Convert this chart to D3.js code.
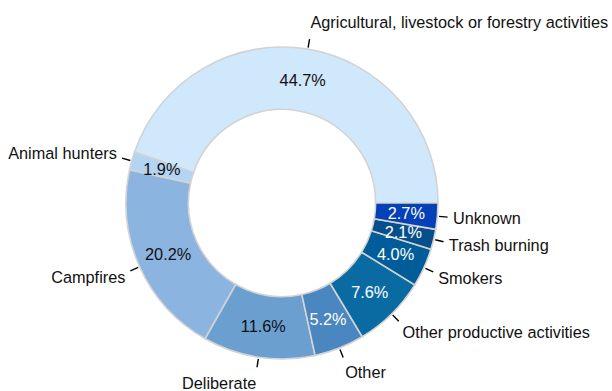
<!DOCTYPE html>
<html>
<head>
<meta charset="utf-8">
<script src="https://cdn.jsdelivr.net/npm/d3@7"></script>
<style>
  html, body { margin: 0; padding: 0; background: #ffffff; }
  svg text { font-family: "Liberation Sans", Arial, Helvetica, sans-serif; }
</style>
</head>
<body>
<svg id="chart" width="612" height="391"></svg>
<script>
// Causes of wildfires, share of total (%)
const categories = [
  "Agricultural, livestock or forestry activities",
  "Animal hunters",
  "Campfires",
  "Deliberate",
  "Other",
  "Other productive activities",
  "Smokers",
  "Trash burning",
  "Unknown"
];
const shares = [44.7, 1.9, 20.2, 11.6, 5.2, 7.6, 4.0, 2.1, 2.7];
const sliceColors = [
  "#cfe8fc", "#b4d4f3", "#8cb4e0", "#6b9fd0", "#4a86bf",
  "#0a6ba3", "#005d9a", "#064f8b", "#0440b6"
];
const darkText = [true, true, true, true, false, false, false, false, false];

const width = 612, height = 391;
const cx = 282, cy = 203;
const R = 156;
const innerR = R * 0.6;
const fontSize = 16.3;

const svg = d3.select("#chart");
const g = svg.append("g").attr("transform", `translate(${cx},${cy})`);

const data = categories.map((c, i) => ({ name: c, value: shares[i], color: sliceColors[i], dark: darkText[i] }));

// Slices run counter-clockwise starting at three o'clock
const pie = d3.pie()
  .sort(null)
  .value(d => d.value)
  .startAngle(Math.PI / 2)
  .endAngle(Math.PI / 2 - 2 * Math.PI);

const arcs = pie(data);

const arc = d3.arc().innerRadius(innerR).outerRadius(R);

g.selectAll("path.slice")
  .data(arcs)
  .join("path")
  .attr("class", "slice")
  .attr("d", arc)
  .attr("fill", d => d.data.color)
  .attr("stroke", "#d3d3d3")
  .attr("stroke-width", 1.6);

const mid = d => (d.startAngle + d.endAngle) / 2;
const pt = (a, r) => [Math.sin(a) * r, -Math.cos(a) * r];

// Percentage labels inside the ring
const fmt = d3.format(".1f");
g.selectAll("text.pct")
  .data(arcs)
  .join("text")
  .attr("class", "pct")
  .attr("x", d => pt(mid(d), R * 0.8)[0])
  .attr("y", d => pt(mid(d), R * 0.8)[1])
  .attr("dy", "0.35em")
  .attr("text-anchor", "middle")
  .attr("font-size", fontSize)
  .attr("fill", d => d.data.dark ? "#111111" : "#ffffff")
  .text(d => fmt(d.data.value) + "%");

// Short leader ticks
g.selectAll("line.tick")
  .data(arcs)
  .join("line")
  .attr("class", "tick")
  .attr("x1", d => pt(mid(d), R * 1.01)[0])
  .attr("y1", d => pt(mid(d), R * 1.01)[1])
  .attr("x2", d => pt(mid(d), R * 1.065)[0])
  .attr("y2", d => pt(mid(d), R * 1.065)[1])
  .attr("stroke", "#000000")
  .attr("stroke-width", 1.4);

// Category labels outside the ring, pushed away vertically from the ring
g.selectAll("text.cat")
  .data(arcs)
  .join("text")
  .attr("class", "cat")
  .attr("x", d => pt(mid(d), R * 1.1)[0])
  .attr("y", d => {
    const c = Math.cos(mid(d));
    return pt(mid(d), R * 1.1)[1] - c * (c > 0 ? 12 : 10.5);
  })
  .attr("dy", "0.35em")
  .attr("text-anchor", d => Math.sin(mid(d)) >= 0 ? "start" : "end")
  .attr("font-size", fontSize)
  .attr("fill", "#111111")
  .text(d => d.data.name);
</script>
</body>
</html>
